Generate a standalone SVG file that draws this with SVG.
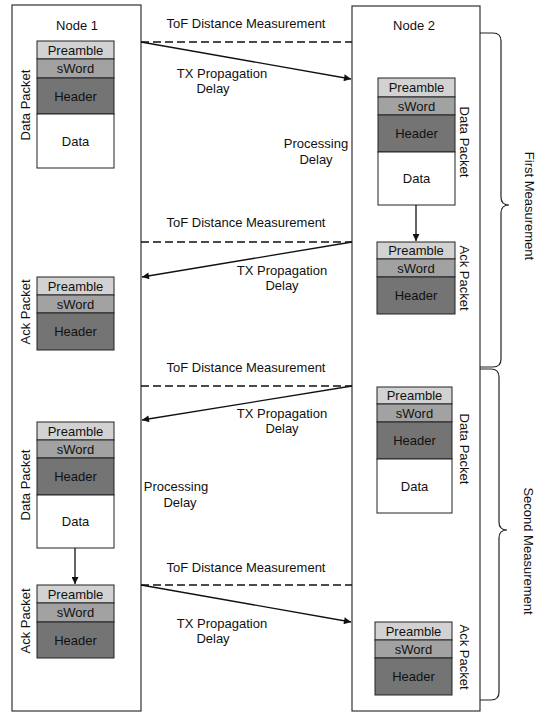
<svg xmlns="http://www.w3.org/2000/svg" width="542" height="712" viewBox="0 0 542 712">
<defs>
<marker id="ah" viewBox="0 0 10 10" refX="10" refY="5" markerWidth="10" markerHeight="7" markerUnits="userSpaceOnUse" orient="auto">
<path d="M0,0 L10,5 L0,10 z" fill="#111"/>
</marker>
<style>
text{font-family:"Liberation Sans",Arial,sans-serif;font-size:13px;fill:#111;}
.c{text-anchor:middle;}
.node{fill:#fff;stroke:#333;stroke-width:1.2;}
.pre{fill:#d2d2d2;stroke:#222;stroke-width:1;}
.sw{fill:#a2a2a2;stroke:#222;stroke-width:1;}
.hd{fill:#747474;stroke:#222;stroke-width:1;}
.dt{fill:#fff;stroke:#222;stroke-width:1;}
.dash{stroke:#111;stroke-width:1.5;stroke-dasharray:8 4;fill:none;}
.arr{stroke:#111;stroke-width:1.3;fill:none;marker-end:url(#ah);}
.brace{stroke:#222;stroke-width:1.2;fill:none;}
</style>
</defs>
<rect width="542" height="712" fill="#fff"/>

<g id="node1">
<rect class="node" x="12" y="5" width="129" height="706"/>
<text class="c" x="77" y="29.5">Node 1</text>
</g>
<g id="node2">
<rect class="node" x="352" y="6" width="128" height="705"/>
<text class="c" x="414" y="29.5">Node 2</text>
</g>

<g id="n1-data1">
<rect class="pre" x="37" y="41" width="77" height="18"/>
<rect class="sw" x="37" y="59" width="77" height="19"/>
<rect class="hd" x="37" y="78" width="77" height="36"/>
<rect class="dt" x="37" y="114" width="77" height="54"/>
<text class="c" x="75.5" y="54.5">Preamble</text>
<text class="c" x="75.5" y="73">sWord</text>
<text class="c" x="75.5" y="100.5">Header</text>
<text class="c" x="75.5" y="145.5">Data</text>
<text class="c" transform="translate(30,105) rotate(-90)">Data Packet</text>
</g>

<g id="n2-data1">
<rect class="pre" x="378" y="78" width="77" height="19"/>
<rect class="sw" x="378" y="97" width="77" height="18"/>
<rect class="hd" x="378" y="115" width="77" height="37"/>
<rect class="dt" x="378" y="152" width="77" height="53"/>
<text class="c" x="416.5" y="92">Preamble</text>
<text class="c" x="416.5" y="110.5">sWord</text>
<text class="c" x="416.5" y="138">Header</text>
<text class="c" x="416.5" y="183">Data</text>
<text class="c" transform="translate(460,142) rotate(90)">Data Packet</text>
</g>

<g id="n2-ack1">
<rect class="pre" x="377" y="242" width="78" height="17"/>
<rect class="sw" x="377" y="259" width="78" height="18"/>
<rect class="hd" x="377" y="277" width="78" height="37"/>
<text class="c" x="416" y="255">Preamble</text>
<text class="c" x="416" y="272.5">sWord</text>
<text class="c" x="416" y="300">Header</text>
<text class="c" transform="translate(460,278) rotate(90)">Ack Packet</text>
</g>

<g id="n1-ack1">
<rect class="pre" x="37" y="277" width="77" height="18"/>
<rect class="sw" x="37" y="295" width="77" height="18"/>
<rect class="hd" x="37" y="313" width="77" height="37"/>
<text class="c" x="75.5" y="290.5">Preamble</text>
<text class="c" x="75.5" y="308.5">sWord</text>
<text class="c" x="75.5" y="336">Header</text>
<text class="c" transform="translate(30,312) rotate(-90)">Ack Packet</text>
</g>

<g id="n2-data2">
<rect class="pre" x="377" y="387" width="75" height="17"/>
<rect class="sw" x="377" y="404" width="75" height="18"/>
<rect class="hd" x="377" y="422" width="75" height="37"/>
<rect class="dt" x="377" y="459" width="75" height="54"/>
<text class="c" x="414.5" y="400">Preamble</text>
<text class="c" x="414.5" y="417.5">sWord</text>
<text class="c" x="414.5" y="445">Header</text>
<text class="c" x="414.5" y="490.5">Data</text>
<text class="c" transform="translate(460,449) rotate(90)">Data Packet</text>
</g>

<g id="n1-data2">
<rect class="pre" x="37" y="422" width="77" height="18"/>
<rect class="sw" x="37" y="440" width="77" height="18"/>
<rect class="hd" x="37" y="458" width="77" height="37"/>
<rect class="dt" x="37" y="495" width="77" height="53"/>
<text class="c" x="75.5" y="435.5">Preamble</text>
<text class="c" x="75.5" y="453.5">sWord</text>
<text class="c" x="75.5" y="481">Header</text>
<text class="c" x="75.5" y="526">Data</text>
<text class="c" transform="translate(30,485) rotate(-90)">Data Packet</text>
</g>

<g id="n1-ack2">
<rect class="pre" x="37" y="585" width="77" height="18"/>
<rect class="sw" x="37" y="603" width="77" height="19"/>
<rect class="hd" x="37" y="622" width="77" height="36"/>
<text class="c" x="75.5" y="598.5">Preamble</text>
<text class="c" x="75.5" y="617">sWord</text>
<text class="c" x="75.5" y="644.5">Header</text>
<text class="c" transform="translate(30,621) rotate(-90)">Ack Packet</text>
</g>

<g id="n2-ack2">
<rect class="pre" x="375" y="622" width="77" height="18"/>
<rect class="sw" x="375" y="640" width="77" height="18"/>
<rect class="hd" x="375" y="658" width="77" height="37"/>
<text class="c" x="413.5" y="635.5">Preamble</text>
<text class="c" x="413.5" y="653.5">sWord</text>
<text class="c" x="413.5" y="681">Header</text>
<text class="c" transform="translate(460,657) rotate(90)">Ack Packet</text>
</g>

<g id="connectors">
<line class="dash" x1="141" y1="42" x2="352" y2="42"/>
<line class="arr" x1="141" y1="42" x2="351" y2="79"/>
<line class="arr" x1="416" y1="205" x2="416" y2="241"/>
<line class="dash" x1="141" y1="242" x2="352" y2="242"/>
<line class="arr" x1="352" y1="242" x2="142" y2="277"/>
<line class="dash" x1="141" y1="386" x2="352" y2="386"/>
<line class="arr" x1="352" y1="386" x2="142" y2="420"/>
<line class="arr" x1="75" y1="548" x2="75" y2="584"/>
<line class="dash" x1="141" y1="585" x2="352" y2="585"/>
<line class="arr" x1="141" y1="585" x2="351" y2="622"/>
</g>

<g id="labels">
<text class="c" x="246" y="28">ToF Distance Measurement</text>
<text class="c" x="222" y="77.5">TX Propagation</text>
<text class="c" x="213" y="92.5">Delay</text>
<text class="c" x="316" y="147.5">Processing</text>
<text class="c" x="316" y="163.5">Delay</text>
<text class="c" x="246" y="226.5">ToF Distance Measurement</text>
<text class="c" x="282" y="274.5">TX Propagation</text>
<text class="c" x="282" y="289.5">Delay</text>
<text class="c" x="246" y="371.5">ToF Distance Measurement</text>
<text class="c" x="282" y="417.5">TX Propagation</text>
<text class="c" x="282" y="432.5">Delay</text>
<text class="c" x="176" y="490.5">Processing</text>
<text class="c" x="180" y="506.5">Delay</text>
<text class="c" x="246" y="571.5">ToF Distance Measurement</text>
<text class="c" x="222" y="627.5">TX Propagation</text>
<text class="c" x="213" y="642.5">Delay</text>
</g>

<g id="brace-first">
<path class="brace" d="M480,33 H493 Q501,33 501,41 V197 Q501,205 509,205 Q501,205 501,213 V359 Q501,367 493,367 H480"/>
<text class="c" transform="translate(525,206) rotate(90)">First Measurement</text>
</g>
<g id="brace-second">
<path class="brace" d="M480,369 H491 Q499,369 499,377 V522 Q499,530 507,530 Q499,530 499,538 V692 Q499,700 491,700 H480"/>
<text class="c" transform="translate(524,551) rotate(90)">Second Measurement</text>
</g>
</svg>
